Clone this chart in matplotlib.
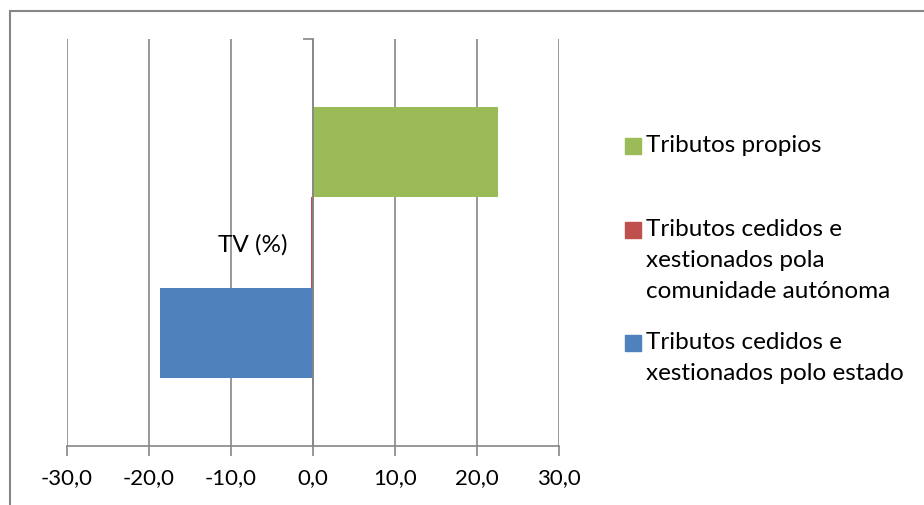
import matplotlib
matplotlib.use("Agg")
import matplotlib.pyplot as plt
from matplotlib.patches import Rectangle
from matplotlib.ticker import FuncFormatter

plt.rcParams['font.family'] = ['Lato', 'DejaVu Sans']

# data
category = "TV (%)"
series = ["Tributos cedidos e\nxestionados polo estado",
          "Tributos cedidos e\nxestionados pola\ncomunidade autónoma",
          "Tributos propios"]
values = [-18.7, -0.2, 22.6]
colors = ["#4F81BD", "#C0504D", "#9BBB59"]
xticks = [-30, -20, -10, 0, 10, 20, 30]

W, H = 924, 505
fig = plt.figure(figsize=(W / 100, H / 100), dpi=100)
ax = fig.add_axes([67 / W, (H - 446) / H, (559 - 67) / W, (446 - 39) / H])

grey = "#868686"
h = 1 / 4.5  # gap width 150%
for i, (v, c) in enumerate(zip(values, colors)):
    ax.barh((i - 1) * h, v, height=h, color=c, zorder=3)

ax.set_xlim(-30, 30)
ax.set_ylim(-0.5, 0.5)
ax.set_xticks(xticks)
ax.xaxis.set_major_formatter(FuncFormatter(lambda v, p: f"{v:.1f}".replace(".", ",")))
ax.grid(axis="x", color=grey, linewidth=1.2, zorder=0)
ax.tick_params(axis="x", direction="out", length=7, width=1.2, color=grey,
               labelsize=16, pad=9, labelcolor="black")

for s in ["top", "right"]:
    ax.spines[s].set_visible(False)
ax.spines["bottom"].set_color(grey)
ax.spines["bottom"].set_linewidth(1.2)
ax.spines["left"].set_position(("data", 0))
ax.spines["left"].set_color(grey)
ax.spines["left"].set_linewidth(1.2)
ax.spines["left"].set_zorder(4)
ax.set_yticks([0.5])
ax.set_yticklabels([])
ax.set_yticks([0], minor=True)
ax.set_yticklabels([category], minor=True)
ax.tick_params(axis="y", which="major", direction="out", length=7, width=1.2, color=grey)
ax.tick_params(axis="y", which="minor", length=0, labelsize=17.5, pad=18)

# chart border
fig.patches.append(Rectangle((9.5 / W, -0.1), 1.2, (H - 10.5) / H + 0.1,
                             transform=fig.transFigure, fill=False,
                             edgecolor=grey, linewidth=1.5))

# legend
legend_tops = [332, 219, 135]
for lab, c, top in zip(series, colors, legend_tops):
    fig.patches.append(Rectangle((625 / W, (H - top - 19) / H), 16 / W, 16 / H,
                                 transform=fig.transFigure, color=c))
    fig.text(646 / W, (H - top) / H, lab, fontsize=17.5, va="top", ha="left",
             linespacing=1.6)

fig.savefig("out.png", dpi=100)
